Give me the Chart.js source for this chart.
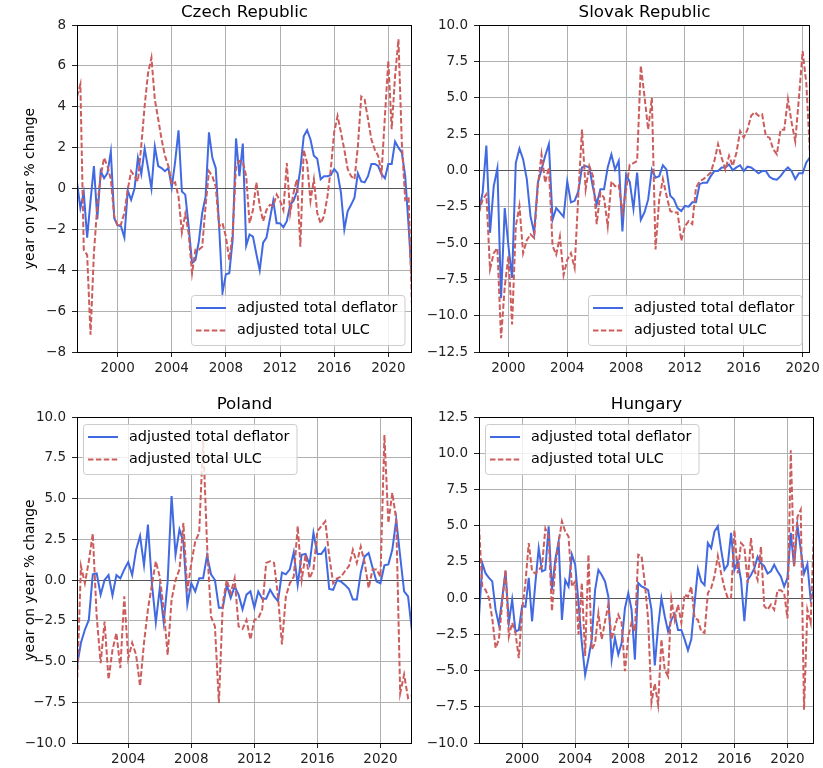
<!DOCTYPE html>
<html>
<head>
<meta charset="utf-8">
<script src="https://cdn.jsdelivr.net/npm/chart.js@4.4.1/dist/chart.umd.min.js"></script>
<style>
  html, body { margin: 0; padding: 0; background: #fff; }
  #fig { position: relative; width: 823px; height: 768px; background: #fff; }
  canvas { position: absolute; }
</style>
</head>
<body>
<div id="fig">
  <canvas id="czStats" width="420" height="390" style="left:0;top:0"></canvas>
  <canvas id="skStats" width="403" height="390" style="left:420px;top:0"></canvas>
  <canvas id="plStats" width="420" height="378" style="left:0;top:390px"></canvas>
  <canvas id="huStats" width="403" height="378" style="left:420px;top:390px"></canvas>
</div>
<script>
// quarterly series, year on year % change; first quarter given as a decimal year
var czStart = 1997.0;
var czDeflator = [0.3, -0.95, -0.2, -2.4, -0.6, 1.1, -1.5, 0.85, 0.5, 0.75,
  1.8, -1.45, -1.8, -1.85, -2.4, -0.1, -0.55, 0, 1.5, 0.7,
  1.95, 1.0, 0, 2.05, 1.1, 1.0, 0.85, 1.0, 0.05, 1.3,
  2.85, -0.15, -0.3, -1.85, -3.65, -3.5, -2.6, -1.2, -0.4, 2.75,
  1.5, 1.0, -1.85, -5.1, -4.2, -4.15, -2.5, 2.45, 0.6, 2.2,
  -2.8, -2.25, -2.35, -3.2, -4.0, -2.65, -2.4, -1.5, -0.6, -1.7,
  -1.7, -1.9, -1.6, -0.8, -0.6, -0.15, 0.95, 2.55, 2.85, 2.4,
  1.6, 1.45, 0.45, 0.6, 0.6, 0.65, 0.95, 0.75, -0.2, -2.0,
  -1.1, -0.8, -0.45, 0.75, 0.35, 0.3, 0.6, 1.2, 1.2, 1.1,
  0.7, 0.5, 1.2, 1.2, 2.3, 2.0, 1.75, 0.6, -1.85, -4.6];
var czUlc = [4.5, 5.1, -3.0, -3.25, -7.15, -3.15, -0.85, 0.6, 1.5, 1.1,
  0.45, -1.35, -1.85, -1.75, -1.2, -0.05, 0.85, 0.6, 0.35, 2.1,
  4.05, 5.65, 6.4, 4.35, 3.4, 2.4, 1.6, 1.1, 0.2, 0.3,
  -0.4, -2.15, -1.25, -2.2, -4.15, -3.0, -3.0, -2.85, -0.85, 0.85,
  0.6, 0.1, -1.85, -1.7, -2.35, -3.5, -2.2, 1.1, 1.35, 1.3,
  0.6, -1.7, -1.05, 0.3, -0.85, -1.6, -1.05, -0.8, -0.85, -0.3,
  -0.6, -1.05, 1.25, -1.2, -0.2, 0.45, -2.85, 1.9, 1.25, -0.6,
  0.45, -1.2, -1.7, -1.35, -0.4, 0.95, 2.75, 3.55, 2.75, 1.9,
  0.95, 0.6, 0.45, 2.05, 4.5, 4.35, 3.4, 2.4, 1.9, 1.6,
  0.75, 3.55, 6.25, 2.9, 5.5, 7.3, 2.2, -0.55, -0.4, -5.8];

var skStart = 1998.0;
var skDeflator = [-2.8, -1.5, 1.7, -4.3, -1.1, 0.15, -8.8, -2.6, -5.2, -7.4,
  0.5, 1.5, 0.75, -0.6, -3.15, -4.3, -0.85, 0.05, 1.0, 1.8,
  -3.4, -2.6, -2.9, -3.2, -0.75, -2.2, -2.1, -1.45, 0.2, 0.3,
  0.2, -1.2, -2.35, -1.3, -1.3, 0.2, 1.1, 0.05, 0.65, -4.2,
  -0.3, -0.8, -2.65, -0.15, -3.4, -2.9, -2.0, 0.05, -0.5, -0.4,
  0.35, 0.05, -1.75, -2.0, -2.6, -2.8, -2.45, -2.5, -2.2, -2.2,
  -0.95, -0.85, -0.85, -0.4, -0.05, -0.05, 0.2, 0.2, 0.4, 0,
  0.2, 0.35, -0.05, 0.25, 0.2, 0, -0.2, -0.05, -0.05, -0.45,
  -0.6, -0.65, -0.4, -0.05, 0.2, -0.05, -0.6, -0.2, -0.2, 0.55,
  0.9];
var skUlc = [-2.9, -2.0, -1.65, -6.8, -5.7, -5.35, -11.55, -8.0, -5.9, -10.6,
  -3.85, -2.45, -5.7, -4.8, -4.4, -4.65, -1.1, 1.1, -0.85, 0.2,
  -5.2, -5.8, -4.55, -7.2, -6.15, -5.7, -6.7, -1.75, 2.8, -1.3,
  0.3, -0.4, -3.7, -1.55, -1.9, -3.85, -0.75, -1.1, -1.0, -2.9,
  -1.3, 0.4, 0.5, 0.65, 7.2, 5.1, 2.8, 5.0, -5.45, -2.0,
  -0.6, -1.75, -2.8, -2.9, -2.9, -4.85, -3.85, -3.5, -3.7, -1.2,
  -0.75, -0.6, -0.4, -0.15, 0.65, 1.8, 0.85, 0.05, 1.0, 0.3,
  1.2, 2.7, 2.25, 2.8, 3.75, 4.0, 3.75, 3.85, 2.35, 2.25,
  1.45, 1.1, 2.8, 2.8, 4.9, 3.3, 2.0, 5.0, 8.2, 6.0,
  1.2];

var plStart = 2000.75;
var plDeflator = [-5.3, -3.85, -3.05, -2.45, 0.35, 0.4, -0.9, 0, 0.3, -0.95,
  0.3, 0.1, 0.65, 1.1, 0.3, 1.85, 2.7, 0.9, 3.4, -0.2,
  -2.6, -0.5, -2.6, -0.1, 5.15, 1.55, 3.1, 2.35, -1.5, -0.2,
  -0.7, 0.1, 0.1, 1.5, 0.35, 0, -1.7, -1.7, -0.3, -1.1,
  -0.4, -0.9, -1.8, -0.9, -0.7, -1.7, -0.7, -1.15, -1.15, -0.6,
  -1.0, -1.3, 0.45, 0.35, 0.65, 1.7, -0.3, 1.55, 1.6, 0.95,
  2.9, 1.6, 1.6, 1.95, -0.55, -0.6, 0, -0.1, -0.3, -0.55,
  -1.2, -1.2, 0.45, 1.45, 1.65, 0.75, -0.1, -0.2, 0.9, 0.95,
  1.85, 3.7, 1.45, -0.7, -1.0, -3.15];
var plUlc = [-6.5, 0.85, -0.2, 1.15, 2.85, -2.25, -5.1, -2.55, -6.1, -4.3,
  -3.25, -5.4, -1.0, -4.8, -3.85, -4.6, -6.5, -3.85, -1.8, -0.3,
  1.15, 0.2, -1.8, -4.6, -1.2, 0, 0.65, 3.5, -0.7, 1.05,
  2.35, 2.9, 8.6, 2.15, -2.25, -2.85, -7.55, -1.4, 0, -0.8,
  0.1, -2.85, -3.0, -2.45, -3.65, -2.45, -2.35, -1.8, 1.05, 1.15,
  1.05, -1.0, -3.95, -1.0, -0.2, 0.2, 3.3, 0, 1.55, 0.1,
  0.65, 3.0, 3.3, 3.6, 1.45, -0.2, 0.1, 0.2, 0.55, 0.85,
  1.85, 1.05, 2.05, 1.05, -0.5, 0.65, 0.65, 0.2, 8.9, 3.5,
  5.35, 3.7, -6.95, -5.8, -7.25, -7.1];

var huStart = 1996.75;
var huDeflator = [-1.3, 2.4, 1.7, 1.4, 1.15, -0.8, -1.85, 0, 1.85, -1.7,
  -0.1, -2.3, -2.2, -0.55, -0.6, 1.4, -1.6, 1.05, 3.45, 1.85,
  1.95, 4.95, 0.55, 2.65, 3.9, -1.5, 1.25, 0.8, 3.0, 2.3,
  -0.35, -3.1, -5.3, -4.15, -2.85, 0.55, 1.95, 1.6, 1.15, 0.1,
  -4.25, -2.75, -3.9, -3.1, -0.7, 0.35, -0.8, -4.25, 1.05, 0.8,
  0.7, 0.55, -0.8, -4.65, -1.95, 0, -1.25, -2.3, -1.5, -1.1,
  -2.2, -2.2, -2.85, -3.6, -2.85, -0.35, 2.0, 1.15, 0.9, 3.8,
  3.45, 4.6, 4.95, 3.35, 1.95, 2.3, 4.5, 1.95, 2.55, 1.25,
  -1.6, 1.25, 1.6, 2.05, 2.85, 2.4, 2.2, 1.7, 1.85, 2.3,
  1.85, 1.5, 0.8, 1.4, 4.5, 2.2, 5.05, 3.35, 1.7, 2.35,
  -0.1, 0.55];
var huUlc = [4.95, 0.8, 0.55, 0, -1.4, -3.45, -2.85, -0.35, 1.95, -2.65,
  -1.7, -2.4, -4.15, -0.8, 1.05, 3.8, 1.85, 1.7, 1.95, 2.2,
  4.8, 4.25, -0.9, 2.2, 3.8, 5.3, 4.6, 4.25, 0.8, 1.15,
  -2.5, 1.05, -4.0, 3.0, -3.55, -3.1, -1.05, -2.85, -1.6, -0.45,
  -2.85, -1.95, -1.15, -1.7, -5.05, -2.65, -1.7, -2.3, 3.0, 2.9,
  1.05, -1.5, -7.2, -5.9, -7.35, -2.85, -4.95, -5.4, -0.1, -1.5,
  -0.45, -1.7, 0.25, 0.1, 0.8, -1.4, -1.5, -2.3, -2.4, 0.35,
  0.7, 1.5, 2.9, 1.7, 0.7, 0, 0, 4.7, 1.7, 3.8,
  3.55, 1.05, 4.15, 1.95, 1.25, 3.55, -0.55, -0.8, -0.45, -0.8,
  0.55, 0.55, 0.35, -1.4, 10.2, 2.2, 5.6, 6.1, -7.7, -0.8,
  -1.7, 4.8];

var yearTicks = [2000, 2004, 2008, 2012, 2016, 2020];
var yearTicksPl = [2004, 2008, 2012, 2016, 2020];
var seriesLabels = ['adjusted total deflator', 'adjusted total ULC'];
var ylabelText = 'year on year % change';

Chart.defaults.font.family = '"DejaVu Sans", sans-serif';

function toPoints(start, values) {
  return values.map(function (v, i) { return { x: start + i * 0.25, y: v }; });
}

function fmt(dec) {
  return function (v) {
    var s = dec ? Number(v).toFixed(dec) : String(Math.round(v));
    return s.replace('-', '\u2212');
  };
}

// spines, title, y label and an in-plot legend, matplotlib style
var deco = {
  id: 'deco',
  afterDraw: function (chart, args, o) {
    var ctx = chart.ctx, a = chart.chartArea;
    ctx.save();
    ctx.strokeStyle = '#000';
    ctx.lineWidth = 1;
    ctx.strokeRect(a.left + 0.5, a.top + 0.5, a.right - a.left - 1, a.bottom - a.top);

    ctx.fillStyle = '#000';
    ctx.font = '16.7px "DejaVu Sans"';
    ctx.textAlign = 'center';
    ctx.textBaseline = 'alphabetic';
    ctx.fillText(o.title, (a.left + a.right) / 2, a.top - 8);

    if (o.ylabel) {
      ctx.save();
      ctx.translate(34, (a.top + a.bottom) / 2);
      ctx.rotate(-Math.PI / 2);
      ctx.font = '13.9px "DejaVu Sans"';
      ctx.fillText(ylabelText, 0, 0);
      ctx.restore();
    }

    // legend
    ctx.font = '14.4px "DejaVu Sans"';
    var ds = chart.data.datasets;
    var tw = 0;
    ds.forEach(function (d) { tw = Math.max(tw, ctx.measureText(d.label).width); });
    var bw = 4.5 + 30 + 11 + tw + 7.5, bh = 50, bx, by;
    if (o.legend === 'lower right') {
      bx = a.right - 8 - bw; by = a.bottom - 7 - bh;
    } else {
      bx = a.left + 6; by = a.top + 7;
    }
    bx = Math.round(bx) + 0.5; by = Math.round(by) + 0.5;
    ctx.beginPath();
    ctx.roundRect(bx, by, bw, bh, 3);
    ctx.fillStyle = 'rgba(255,255,255,0.8)';
    ctx.fill();
    ctx.strokeStyle = '#cccccc';
    ctx.stroke();
    ds.forEach(function (d, k) {
      var y = by + 12.5 + k * 22.6;
      ctx.beginPath();
      ctx.setLineDash(d.borderDash || []);
      ctx.strokeStyle = d.borderColor;
      ctx.lineWidth = 2;
      ctx.moveTo(bx + 4.5, y);
      ctx.lineTo(bx + 34.5, y);
      ctx.stroke();
      ctx.setLineDash([]);
      ctx.fillStyle = '#000';
      ctx.textAlign = 'left';
      ctx.textBaseline = 'middle';
      ctx.fillText(d.label, bx + 45.5, y);
    });
    ctx.restore();
  }
};

function makeChart(id, c) {
  return new Chart(document.getElementById(id).getContext('2d'), {
    type: 'line',
    data: {
      datasets: [{
        label: seriesLabels[0],
        data: toPoints(c.start, c.deflator),
        borderColor: '#4169e1',
        borderWidth: 2,
        pointRadius: 0,
        order: 1
      }, {
        label: seriesLabels[1],
        data: toPoints(c.start, c.ulc),
        borderColor: '#cd5c5c',
        borderWidth: 2,
        borderDash: [5.5, 2.4],
        pointRadius: 0,
        order: 0
      }]
    },
    options: {
      responsive: false,
      animation: false,
      devicePixelRatio: 1,
      layout: { padding: { left: 0, top: c.padTop, right: c.padRight, bottom: 0 } },
      plugins: {
        legend: { display: false },
        tooltip: { enabled: false },
        deco: { title: c.title, ylabel: c.ylabel, legend: c.legend }
      },
      scales: {
        x: {
          type: 'linear',
          min: c.start,
          max: c.start + (c.deflator.length - 1) * 0.25,
          afterBuildTicks: function (s) { s.ticks = c.years.map(function (v) { return { value: v }; }); },
          afterFit: function (s) { s.height = c.xHeight; },
          ticks: { callback: function (v) { return String(v); }, font: { size: 13.5 }, color: '#222', padding: 3, maxRotation: 0, autoSkip: false },
          grid: { color: '#b0b0b0', lineWidth: 1, tickLength: 5, tickColor: '#222' },
          border: { display: false }
        },
        y: {
          min: c.yMin,
          max: c.yMax,
          afterFit: function (s) { s.width = c.yWidth; },
          ticks: { stepSize: c.yStep, callback: fmt(c.dec), font: { size: 13.5 }, color: '#222', padding: 6 },
          grid: {
            color: function (ctx) { return ctx.tick && ctx.tick.value === 0 ? '#555' : '#b0b0b0'; },
            lineWidth: 1, tickLength: 5, tickColor: '#222'
          },
          border: { display: false }
        }
      }
    },
    plugins: [deco]
  });
}

var czChart = makeChart('czStats', {
  title: 'Czech Republic', start: czStart, deflator: czDeflator, ulc: czUlc,
  yMin: -8, yMax: 8, yStep: 2, dec: 0, years: yearTicks, ylabel: true, legend: 'lower right',
  padTop: 25, padRight: 8, yWidth: 77, xHeight: 38
});
var skChart = makeChart('skStats', {
  title: 'Slovak Republic', start: skStart, deflator: skDeflator, ulc: skUlc,
  yMin: -12.5, yMax: 10, yStep: 2.5, dec: 1, years: yearTicks, ylabel: false, legend: 'lower right',
  padTop: 25, padRight: 9, yWidth: 59, xHeight: 38
});
var plChart = makeChart('plStats', {
  title: 'Poland', start: plStart, deflator: plDeflator, ulc: plUlc,
  yMin: -10, yMax: 10, yStep: 2.5, dec: 1, years: yearTicksPl, ylabel: true, legend: 'upper left',
  padTop: 27, padRight: 8, yWidth: 77, xHeight: 25
});
var huChart = makeChart('huStats', {
  title: 'Hungary', start: huStart, deflator: huDeflator, ulc: huUlc,
  yMin: -10, yMax: 12.5, yStep: 2.5, dec: 1, years: yearTicks, ylabel: false, legend: 'upper left',
  padTop: 27, padRight: 9, yWidth: 59, xHeight: 25
});
</script>
</body>
</html>
